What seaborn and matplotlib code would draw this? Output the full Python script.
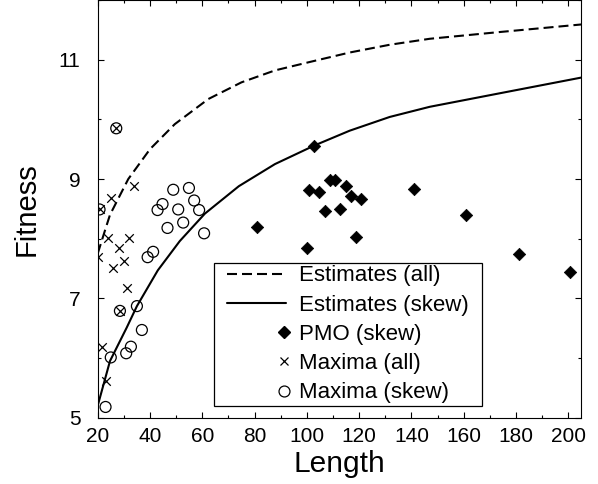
import numpy as np
import pandas as pd
import matplotlib
matplotlib.use("Agg")
import matplotlib.pyplot as plt
import seaborn as sns
from matplotlib.lines import Line2D
from matplotlib.legend_handler import HandlerLine2D
from matplotlib.ticker import MultipleLocator, FixedLocator

# ---------------- data ----------------
est_all_len = [20, 22.8, 24.7, 31.7, 40, 49.5, 62.3, 75, 87.8, 101, 116.4, 131.7, 147, 173, 205]
est_all_fit = [7.75, 8.14, 8.40, 9.00, 9.50, 9.92, 10.34, 10.62, 10.82, 10.96, 11.12, 11.25, 11.35, 11.46, 11.59]

est_skew_len = [20, 24.7, 31.1, 35.0, 43.0, 51.4, 61.0, 74.0, 87.8, 102.8, 116.4, 131.7, 147, 173, 205]
est_skew_fit = [5.20, 5.95, 6.51, 6.87, 7.47, 7.96, 8.42, 8.88, 9.25, 9.56, 9.81, 10.04, 10.21, 10.43, 10.70]

pmo_len = [81.0, 99.9, 100.9, 102.8, 104.7, 106.9, 108.8, 110.9, 112.6, 114.9, 116.8, 119.0, 120.9, 140.9, 161.0, 181.0, 200.8]
pmo_fit = [8.19, 7.85, 8.82, 9.56, 8.78, 8.46, 8.98, 8.98, 8.49, 8.89, 8.71, 8.03, 8.67, 8.84, 8.39, 7.74, 7.45]

max_all_len = [20.0, 20.7, 21.8, 23.0, 24.1, 25.0, 26.0, 27.1, 28.1, 28.5, 30.2, 31.1, 32.0, 33.9]
max_all_fit = [7.69, 8.49, 6.19, 5.61, 8.01, 8.68, 7.51, 9.85, 7.84, 6.79, 7.62, 7.17, 8.01, 8.89]

max_skew_len = [20.7, 23.0, 25.0, 27.1, 28.5, 30.9, 32.7, 35.0, 36.9, 39.1, 41.2, 42.9, 44.8, 46.7,
                48.9, 50.8, 52.7, 54.9, 56.9, 58.8, 60.7]
max_skew_fit = [8.49, 5.18, 6.01, 9.85, 6.79, 6.08, 6.19, 6.87, 6.47, 7.69, 7.78, 8.48, 8.58, 8.18,
                8.82, 8.49, 8.27, 8.85, 8.64, 8.48, 8.09]

legend_labels = ["Estimates (all)", "Estimates (skew)", "PMO (skew)", "Maxima (all)", "Maxima (skew)"]
x_ticks = [20, 40, 60, 80, 100, 120, 140, 160, 180, 200]
y_ticks = [5, 7, 9, 11]

# ---------------- style ----------------
sns.set_theme(style="ticks")
plt.rcParams['font.family'] = ['Liberation Sans', 'DejaVu Sans']
plt.rcParams['axes.edgecolor'] = 'black'
plt.rcParams['axes.linewidth'] = 0.8

fig = plt.figure(figsize=(5.98, 4.84), dpi=100)
W, H = 598.0, 484.0
ax_l, ax_r, ax_b, ax_t = 97.7, 581.3, 417.7, 0.0
ax = fig.add_axes([ax_l / W, (H - ax_b) / H, (ax_r - ax_l) / W, (ax_b - ax_t) / H])

dash = (0, (4.8, 2.4))
sns.lineplot(x=est_all_len, y=est_all_fit, ax=ax, color='black', linewidth=1.5,
             linestyle=dash, sort=False, estimator=None)
sns.lineplot(x=est_skew_len, y=est_skew_fit, ax=ax, color='black', linewidth=1.5,
             linestyle='-', sort=False, estimator=None)

sns.scatterplot(x=max_skew_len, y=max_skew_fit, ax=ax, marker='o', s=62,
                facecolor='none', edgecolor='black', linewidth=0.9)
ax.collections[-1].set_facecolor('none')
ax.collections[-1].set_edgecolor('black')
sns.scatterplot(x=max_all_len, y=max_all_fit, ax=ax, marker='x', s=38,
                color='black', linewidth=0.9)
ax.collections[-1].set_edgecolor('black')
sns.scatterplot(x=pmo_len, y=pmo_fit, ax=ax, marker='D', s=40,
                color='black', edgecolor='black', linewidth=0.5)

ax.set_xlim(20, 205)
ax.set_ylim(5, 12)
ax.xaxis.set_major_locator(FixedLocator(x_ticks))
ax.xaxis.set_minor_locator(MultipleLocator(10))
ax.yaxis.set_major_locator(FixedLocator(y_ticks))
ax.yaxis.set_minor_locator(MultipleLocator(1))
ax.tick_params(which='both', direction='in', top=True, right=True, color='black',
               width=0.8, labelsize=15, labelcolor='black')
ax.tick_params(which='major', length=4)
ax.tick_params(which='minor', length=2.2)
ax.tick_params(axis='x', which='major', pad=6.5)
ax.tick_params(axis='y', which='major', pad=12.5)
for sp in ax.spines.values():
    sp.set_color('black')
    sp.set_linewidth(0.8)

ax.set_xlabel("Length", fontsize=21.5, color='black')
ax.set_ylabel("Fitness", fontsize=21, color='black')
ax.xaxis.set_label_coords(0.5, -0.077)
ax.yaxis.set_label_coords(-0.117, 0.5)


class LineHandler(HandlerLine2D):
    def get_xdata(self, legend, xdescent, ydescent, width, height, fontsize):
        lead = 0.47 * fontsize
        return [-xdescent + lead, -xdescent + width], [-xdescent + width]


class MarkerHandler(HandlerLine2D):
    def get_xdata(self, legend, xdescent, ydescent, width, height, fontsize):
        pos = -xdescent + width - 0.07 * fontsize
        return [pos - 0.5, pos + 0.5], [pos]


handles = [
    Line2D([], [], color='black', linewidth=1.5, linestyle=dash),
    Line2D([], [], color='black', linewidth=1.5, linestyle='-'),
    Line2D([], [], color='black', linestyle='none', marker='D', markersize=np.sqrt(40)),
    Line2D([], [], color='black', linestyle='none', marker='x', markersize=np.sqrt(38), markeredgewidth=0.9),
    Line2D([], [], color='black', linestyle='none', marker='o', markersize=np.sqrt(62),
           markerfacecolor='none', markeredgewidth=0.9),
]
hm = {}
for i, h in enumerate(handles):
    hm[h] = LineHandler() if i < 2 else MarkerHandler(numpoints=1)
leg_x0 = (214 - ax_l) / (ax_r - ax_l)
leg_x1 = (482 - ax_l) / (ax_r - ax_l)
leg_y0 = (ax_b - 406) / (ax_b - ax_t)
leg = ax.legend(handles, legend_labels, handler_map=hm, loc='lower left',
                bbox_to_anchor=(leg_x0, leg_y0, leg_x1 - leg_x0, 0.3), mode='expand',
                borderaxespad=0, fontsize=16, frameon=True, fancybox=False, framealpha=1,
                edgecolor='black', handlelength=3.1, handletextpad=0.6, labelspacing=0.37,
                borderpad=0.12, numpoints=1)
leg.get_frame().set_linewidth(0.9)
for t in leg.get_texts():
    t.set_color('black')

fig.savefig("out.png", dpi=100)
